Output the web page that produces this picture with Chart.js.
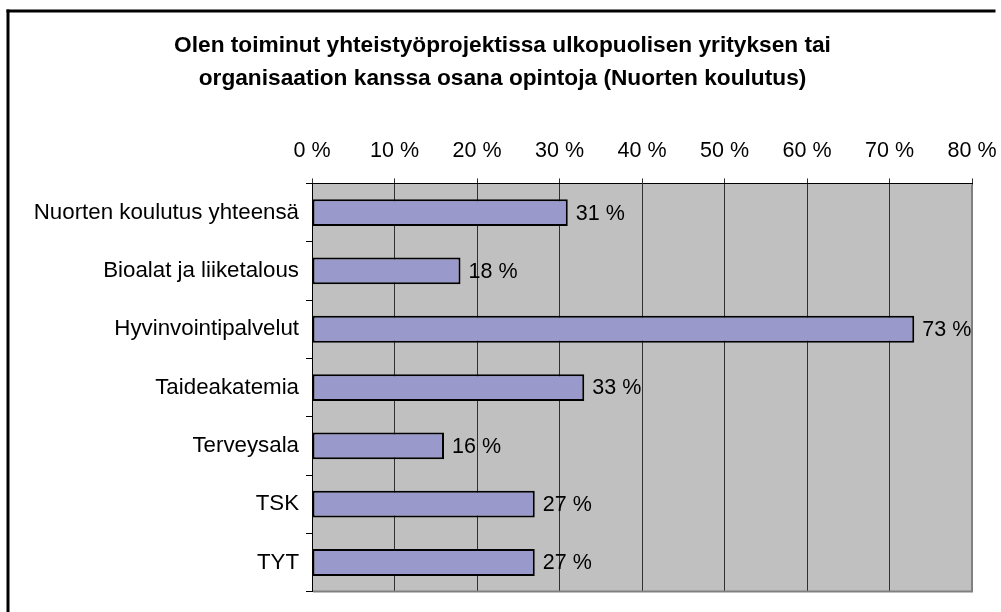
<!DOCTYPE html>
<html>
<head>
<meta charset="utf-8">
<script src="https://cdn.jsdelivr.net/npm/chart.js@4"></script>
<style>
  html, body { margin: 0; background: #fff; overflow: hidden; }
  canvas { display: block; }
</style>
</head>
<body>
<canvas id="chart" width="1001" height="612"></canvas>
<script>
// data
const categories = [
  'Nuorten koulutus yhteensä',
  'Bioalat ja liiketalous',
  'Hyvinvointipalvelut',
  'Taideakatemia',
  'Terveysala',
  'TSK',
  'TYT'
];
const values = [31, 18, 73, 33, 16, 27, 27];
const xTicks = [0, 10, 20, 30, 40, 50, 60, 70, 80];
const titleLines = [
  'Olen toiminut yhteistyöprojektissa ulkopuolisen yrityksen tai',
  'organisaation kanssa osana opintoja (Nuorten koulutus)'
];

const FONT = "'Liberation Sans', Arial, sans-serif";
Chart.defaults.font.family = FONT;
Chart.defaults.color = '#000';

// white page, black frame (only top/left fall inside the picture), grey plot area
const backdrop = {
  id: 'backdrop',
  beforeDraw(chart) {
    const ctx = chart.ctx, a = chart.chartArea;
    ctx.save();
    ctx.fillStyle = '#fff';
    ctx.fillRect(0, 0, chart.width, chart.height);
    ctx.fillStyle = '#000';
    ctx.fillRect(6.5, 9.5, 3, chart.height);       // left edge
    ctx.fillRect(6.5, 9.5, chart.width - 12, 3);   // top edge
    ctx.fillStyle = '#c0c0c0';
    ctx.fillRect(a.left, a.top, a.right - a.left, a.bottom - a.top);
    ctx.restore();
  },
  beforeDatasetsDraw(chart) {
    const ctx = chart.ctx, a = chart.chartArea;
    ctx.save();
    ctx.strokeStyle = '#808080';
    ctx.lineWidth = 2;
    ctx.beginPath();
    ctx.moveTo(a.right, a.top + 1);
    ctx.lineTo(a.right, a.bottom);
    ctx.lineTo(a.left + 1, a.bottom);
    ctx.stroke();
    ctx.restore();
  }
};

// "31 %" labels at the end of each bar
const valueLabels = {
  id: 'valueLabels',
  afterDatasetsDraw(chart) {
    const ctx = chart.ctx;
    const meta = chart.getDatasetMeta(0);
    ctx.save();
    ctx.font = '21.5px ' + FONT;
    ctx.fillStyle = '#000';
    ctx.textAlign = 'left';
    ctx.textBaseline = 'middle';
    meta.data.forEach((bar, i) => {
      ctx.fillText(values[i] + ' %', bar.x + 8, bar.y + 1);
    });
    ctx.restore();
  }
};

new Chart(document.getElementById('chart'), {
  type: 'bar',
  data: {
    labels: categories,
    datasets: [{
      data: values,
      backgroundColor: '#9999cc',
      borderColor: '#000',
      borderWidth: 2,
      borderSkipped: false,
      categoryPercentage: 1,
      barPercentage: 0.46
    }]
  },
  options: {
    indexAxis: 'y',
    responsive: false,
    animation: false,
    layout: { padding: { left: 33, right: 29, top: 0, bottom: 15 } },
    plugins: {
      legend: { display: false },
      tooltip: { enabled: false },
      title: {
        display: true,
        text: titleLines,
        color: '#000',
        font: { size: 22.7, weight: 'bold', lineHeight: 1.42 },
        padding: { top: 30, bottom: 9 }
      }
    },
    scales: {
      x: {
        position: 'top',
        min: 0,
        max: 80,
        afterBuildTicks(scale) {
          scale.ticks = xTicks.map(v => ({ value: v }));
        },
        afterFit(scale) {
          scale.height = 80;
          scale.paddingLeft = 0;
          scale.paddingRight = 0;
        },
        ticks: {
          font: { size: 21.5 },
          padding: 14,
          callback: v => v + ' %'
        },
        grid: { color: '#303030', lineWidth: 1, tickLength: 5 },
        border: { display: true, color: '#000', width: 1 }
      },
      y: {
        afterFit(scale) { scale.width = 279; },
        ticks: { font: { size: 22.3 }, padding: 7 },
        grid: {
          color: '#000',
          offset: true,
          drawOnChartArea: false,
          tickLength: 6
        },
        border: { display: true, color: '#000', width: 1 }
      }
    }
  },
  plugins: [backdrop, valueLabels]
});
</script>
</body>
</html>
